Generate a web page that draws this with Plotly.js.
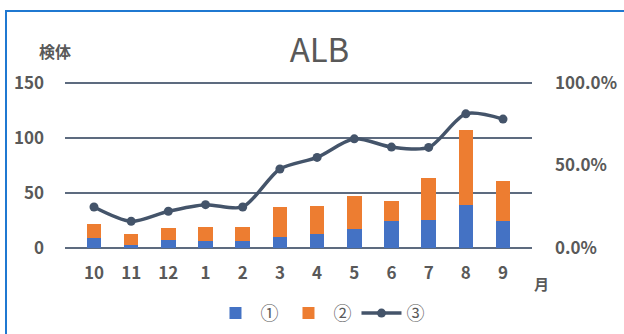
<!DOCTYPE html>
<html>
<head>
<meta charset="utf-8">
<script src="https://cdn.plot.ly/plotly-3.0.1.min.js"></script>
<style>
html,body{margin:0;padding:0;width:624px;height:334px;overflow:hidden;background:#fff;}
#chart{position:absolute;left:0;top:0;width:624px;height:334px;}
#frame{position:absolute;left:5px;top:10px;width:700px;height:400px;border:2px solid #1f78d1;box-sizing:border-box;pointer-events:none;}
</style>
</head>
<body>
<div id="chart"></div>
<div id="frame"></div>
<script>
var months = ['10','11','12','1','2','3','4','5','6','7','8','9'];
var series1 = [9, 3, 7, 6, 6, 10, 13, 17, 24, 25, 39, 24];
var series2 = [13, 10, 11, 13, 13, 27, 25, 30, 19, 39, 68, 37];
var series3 = [0.248, 0.161, 0.222, 0.262, 0.248, 0.479, 0.549, 0.662, 0.612, 0.610, 0.814, 0.782];
var names = ['①', '②', '③'];
var leftTicks = [0, 50, 100, 150];
var rightTicks = [0, 0.5, 1];

var FONT = '"Noto Sans CJK JP", "Noto Sans", sans-serif';
var GREY = '#595959';

var traces = [
  {type:'bar', name:names[0], x:months, y:series1, marker:{color:'#4472c4'}, yaxis:'y'},
  {type:'bar', name:names[1], x:months, y:series2, marker:{color:'#ed7d31'}, yaxis:'y'},
  {type:'scatter', mode:'lines+markers', name:names[2], x:months, y:series3, yaxis:'y2',
   line:{color:'#44546a', width:3.5, shape:'spline', smoothing:0.8},
   marker:{color:'#44546a', size:9}}
];

var pad = 2;
var layout = {
  width:624, height:334,
  margin:{l:65, r:92, t:81, b:84, autoexpand:false},
  paper_bgcolor:'#fff', plot_bgcolor:'#fff',
  barmode:'stack', bargap:0.61,
  showlegend:true,
  font:{family:FONT, color:GREY, size:17},
  title:{text:'ALB', x:0.512, xref:'container', y:0.85, yref:'container', xanchor:'center', yanchor:'middle',
         font:{family:FONT, size:33, color:GREY}},
  xaxis:{type:'category', showgrid:false, zeroline:false, showline:false, ticks:'',
         tickfont:{family:FONT, size:17, color:GREY, weight:'bold'}, ticklabelstandoff:11, fixedrange:true},
  yaxis:{range:[-pad,150+pad], tickvals:leftTicks, ticktext:leftTicks.map(String), showgrid:true, gridcolor:'#5d6b7f', gridwidth:1.4,
         zeroline:false, showline:false, ticks:'', ticklabelstandoff:20,
         tickfont:{family:FONT, size:17, color:GREY, weight:'bold'}, fixedrange:true},
  yaxis2:{range:[-pad/150,1+pad/150], overlaying:'y', side:'right', tickvals:rightTicks, tickformat:'.1%', showgrid:false,
          zeroline:false, showline:false, ticks:'', ticklabelstandoff:22,
          tickfont:{family:FONT, size:17, color:GREY, weight:'bold'}, fixedrange:true},
  legend:{orientation:'h', x:0.546, xanchor:'center', y:-0.375, yanchor:'middle',
          font:{family:FONT, size:18, color:GREY}, itemwidth:40, traceorder:'normal', tracegroupgap:0},
  annotations:[
    {text:'検体', xref:'paper', yref:'paper', x:-0.021, y:1.18, xanchor:'center', yanchor:'middle', showarrow:false,
     font:{family:FONT, size:16, color:GREY, weight:'bold'}},
    {text:'月', xref:'paper', yref:'paper', x:1.021, y:-0.2, xanchor:'center', yanchor:'middle', showarrow:false,
     font:{family:FONT, size:15, color:GREY, weight:'bold'}}
  ]
};

Plotly.newPlot('chart', traces, layout, {displayModeBar:false, staticPlot:true});
</script>
</body>
</html>
